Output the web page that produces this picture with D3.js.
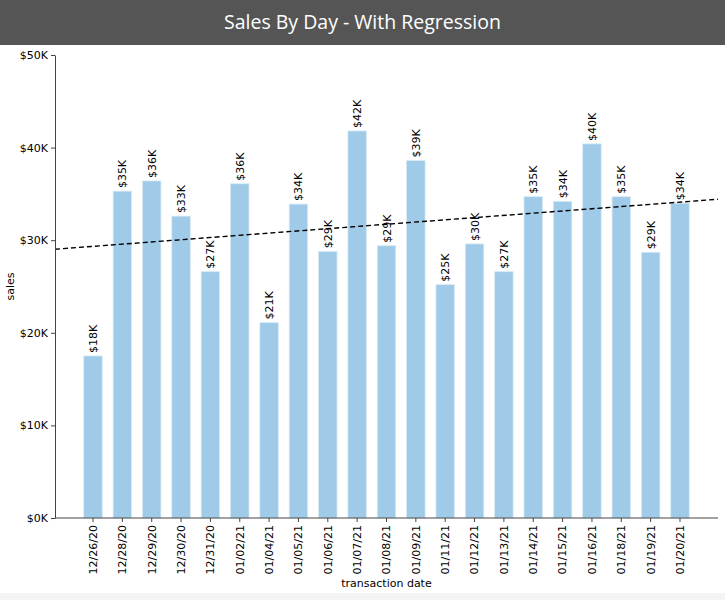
<!DOCTYPE html>
<html>
<head>
<meta charset="utf-8">
<script src="https://cdn.jsdelivr.net/npm/d3@7"></script>
<style>
  body { margin: 0; background: #f4f4f4; }
  #container { width: 725px; }
</style>
</head>
<body>
<div id="container"></div>
<script>
// values, in $K
let days = ["12/26/20","12/28/20","12/29/20","12/30/20","12/31/20","01/02/21","01/04/21","01/05/21","01/06/21","01/07/21","01/08/21","01/09/21","01/11/21","01/12/21","01/13/21","01/14/21","01/15/21","01/16/21","01/18/21","01/19/21","01/20/21"];
let sales = [17.5,35.3,36.4,32.6,26.6,36.1,21.1,33.9,28.8,41.8,29.4,38.6,25.2,29.6,26.6,34.7,34.2,40.4,34.7,28.7,34.0];
let yTicks = [0,10,20,30,40,50];

let w = 725;
let h = 593;
let titleH = 45;

let viz = d3.select("#container")
              .append("svg")
                .attr("width",w)
                .attr("height",h)
                .style("display","block")
                .style("background-color","white")
;

// title bar
viz.append("rect").attr("x",0).attr("y",0).attr("width",w).attr("height",titleH).attr("fill","#555555");
viz.append("text")
    .attr("x",w/2).attr("y",29)
    .attr("text-anchor","middle")
    .attr("fill","white")
    .style("font-family","'Open Sans', sans-serif")
    .style("font-size","19.5px")
    .text("Sales By Day - With Regression");

let plotLeft = 55, plotRight = 718, plotTop = 55, plotBottom = 518;

let xScale = d3.scaleBand().domain(days).range([plotLeft,plotRight]).paddingInner(0.37).paddingOuter(0.98);
let yScale = d3.scaleLinear().domain([0,50]).range([plotBottom,plotTop]);

let fontFam = "'DejaVu Sans', sans-serif";

// bars
viz.selectAll(".bar").data(sales).enter()
  .append("rect")
    .attr("class","bar")
    .attr("x",function(d,i){ return xScale(days[i]); })
    .attr("y",function(d){ return yScale(d); })
    .attr("width",xScale.bandwidth())
    .attr("height",function(d){ return plotBottom - yScale(d); })
    .attr("fill","#9fcae8")
    .attr("stroke","#d8ebf6")
    .attr("stroke-width",0.8)
;

// regression on index (least squares)
let mx = d3.mean(sales,function(d,i){ return i; });
let my = d3.mean(sales);
let sxy = d3.sum(sales,function(d,i){ return (i-mx)*(d-my); });
let sxx = d3.sum(sales,function(d,i){ return (i-mx)*(i-mx); });
let slope = sxy/sxx;
let icpt = my - slope*mx;
let step = xScale.step();
let c0 = xScale(days[0]) + xScale.bandwidth()/2;
function idxAt(px){ return (px - c0)/step; }
let regLine = [plotLeft,plotRight].map(function(px){ return [px, yScale(icpt + slope*idxAt(px))]; });
viz.append("path")
    .attr("d",d3.line()(regLine))
    .attr("stroke","black")
    .attr("stroke-width",1.4)
    .attr("stroke-dasharray","5,3")
    .attr("fill","none");

// bar labels
viz.selectAll(".lbl").data(sales).enter()
  .append("text")
    .attr("class","lbl")
    .attr("transform",function(d,i){
      let x = xScale(days[i]) + xScale.bandwidth()/2 + 4;
      let y = yScale(d) - 3;
      return "translate("+x+","+y+") rotate(-90)";
    })
    .style("font-family",fontFam)
    .style("font-size","11px")
    .attr("fill","black")
    .text(function(d){ return "$"+Math.round(d)+"K"; })
;

// axes
let xAxis = d3.axisBottom(xScale).tickSize(4).tickSizeOuter(0);
let xAxisG = viz.append("g").attr("class","xaxis").attr("transform","translate(0,"+plotBottom+")");
xAxisG.call(xAxis);
xAxisG.select(".domain").attr("d","M"+plotLeft+",0H"+plotRight).attr("stroke","#444");
xAxisG.selectAll(".tick line").attr("stroke","#444");
xAxisG.selectAll(".tick text")
    .attr("transform","rotate(-90)")
    .attr("x",-7).attr("y",0).attr("dy","0.35em")
    .attr("text-anchor","end")
    .attr("fill","black")
    .style("font-family",fontFam)
    .style("font-size","11px");

let yAxis = d3.axisLeft(yScale).tickValues(yTicks).tickSize(4).tickSizeOuter(0)
              .tickFormat(function(d){ return "$"+d+"K"; });
let yAxisG = viz.append("g").attr("class","yaxis").attr("transform","translate("+plotLeft+",0)");
yAxisG.call(yAxis);
yAxisG.select(".domain").attr("stroke","#444");
yAxisG.selectAll(".tick line").attr("stroke","#444");
yAxisG.selectAll(".tick text")
    .attr("fill","black")
    .style("font-family",fontFam)
    .style("font-size","11px");

// axis titles
viz.append("text")
    .attr("x",(plotLeft+plotRight)/2).attr("y",587)
    .attr("text-anchor","middle")
    .style("font-family",fontFam).style("font-size","11px")
    .text("transaction date");
viz.append("text")
    .attr("transform","translate(14,"+((plotTop+plotBottom)/2)+") rotate(-90)")
    .attr("text-anchor","middle")
    .style("font-family",fontFam).style("font-size","11px")
    .text("sales");
</script>
</body>
</html>
